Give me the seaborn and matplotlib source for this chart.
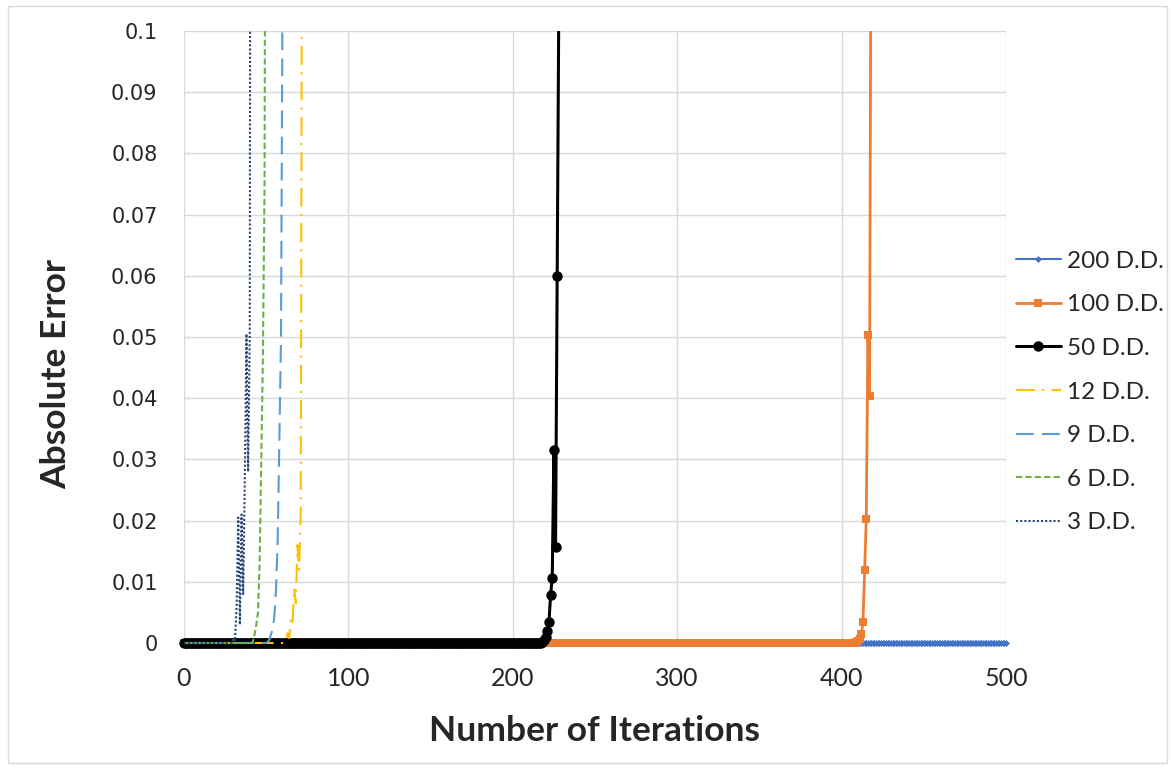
import numpy as np
import matplotlib
matplotlib.use("Agg")
import matplotlib.pyplot as plt
from matplotlib.patches import Rectangle
from matplotlib.transforms import Bbox, TransformedBbox
import seaborn as sns

# absolute error per iteration (zero until each run blows up)
it200 = list(range(0, 501))
err200 = [0.0] * 501

it100 = list(range(0, 419))
err100 = [0.0] * 409 + [0.0002, 0.0004, 0.0007, 0.0014, 0.0034, 0.012, 0.0202, 0.0503, 0.0404, 0.13]

it50 = list(range(0, 229))
err50 = [0.0] * 218 + [0.0002, 0.0005, 0.001, 0.0019, 0.0034, 0.0079, 0.0107, 0.0315, 0.0157, 0.06, 0.105]

it12 = list(range(0, 73))
err12 = [0.0] * 62 + [0.0003, 0.0016, 0.0008, 0.0038, 0.003, 0.009, 0.0065, 0.016, 0.012, 0.0215, 0.15]

it9 = list(range(0, 61))
err9 = [0.0] * 51 + [0.0002, 0.0006, 0.0015, 0.0022, 0.0045, 0.0088, 0.017, 0.033, 0.05, 0.11]

it6 = list(range(0, 51))
err6 = [0.0] * 42 + [0.0003, 0.0015, 0.003, 0.005, 0.013, 0.03, 0.047, 0.075, 0.2]

it3 = list(range(0, 42))
err3 = [0.0] * 30 + [0.0008, 0.0003, 0.006, 0.0205, 0.003, 0.021, 0.008, 0.0272, 0.0505, 0.028, 0.0505, 0.3]

labels = ['200 D.D.', '100 D.D.', '50 D.D.', '12 D.D.', '9 D.D.', '6 D.D.', '3 D.D.']
xticks = [0, 100, 200, 300, 400, 500]
yticks = [0, 0.01, 0.02, 0.03, 0.04, 0.05, 0.06, 0.07, 0.08, 0.09, 0.1]
ytick_labels = ['0', '0.01', '0.02', '0.03', '0.04', '0.05', '0.06', '0.07', '0.08', '0.09', '0.1']

# 线型 / 颜色 (Excel 默认配色)
styles = [
    dict(color='#4472C4', linewidth=1.5, linestyle='-', marker='D', markersize=3.5),
    dict(color='#ED7D31', linewidth=2.0, linestyle='-', marker='s', markersize=6),
    dict(color='black', linewidth=2.2, linestyle='-', marker='o', markersize=7.5),
    dict(color='#FFC000', linewidth=1.5, linestyle=(0, (9, 3.5, 1, 3.5))),
    dict(color='#5B9BD5', linewidth=1.5, linestyle=(0, (8.5, 4))),
    dict(color='#70AD47', linewidth=1.5, linestyle=(0, (3, 1.5))),
    dict(color='#264478', linewidth=1.5, linestyle=(0, (1, 1))),
]
data = [(it200, err200), (it100, err100), (it50, err50), (it12, err12),
        (it9, err9), (it6, err6), (it3, err3)]

sns.set_theme(style="white")
plt.rcParams['font.family'] = ['Lato', 'DejaVu Sans']

W, H = 1175, 769
fig = plt.figure(figsize=(W / 100, H / 100), dpi=100)
ax = fig.add_axes([184 / W, 1 - 643 / H, (1006 - 184) / W, (643 - 31) / H])

# markers may spill a little below / beside the plot area, but not above
clip = TransformedBbox(Bbox([[-0.02, -0.03], [1.02, 1.0]]), ax.transAxes)

for label, (x, y), st in zip(labels, data, styles):
    sns.lineplot(x=x, y=y, ax=ax, label=label, estimator=None, sort=False,
                 markeredgewidth=0, markeredgecolor=st['color'], **st)
    ax.lines[-1].set_clip_box(clip)

ax.set_xlim(0, 500)
ax.set_ylim(0, 0.1)
ax.set_xticks(xticks)
ax.set_xticklabels([str(t) for t in xticks])
ax.set_yticks(yticks)
ax.set_yticklabels(ytick_labels, family='DejaVu Sans', fontsize=15)
ax.tick_params(axis='x', length=0, pad=17, labelsize=18)
ax.tick_params(axis='y', length=0, pad=19)

ax.grid(True, color='#d9d9d9', linewidth=1)
ax.set_axisbelow(True)
for s in ax.spines.values():
    s.set_visible(False)

ax.set_xlabel('Number of Iterations', fontsize=25.5, fontweight='bold')
ax.xaxis.label.set_va('center')
ax.xaxis.set_label_coords(0.5, -0.144)
ax.set_ylabel('Absolute Error', fontsize=25.5, fontweight='bold')
ax.yaxis.label.set_va('center')
ax.yaxis.set_label_coords(-0.155, 0.44)

ax.legend(loc='center left', bbox_to_anchor=(1016 / W, 1 - 392 / H),
          bbox_transform=fig.transFigure, frameon=False, fontsize=17.5,
          handlelength=1.85, handletextpad=0.25, labelspacing=0.93,
          borderaxespad=0, borderpad=0)

# chart area border
fig.patches.append(Rectangle((8 / W, 1 - 763 / H), (1167 - 8) / W, (763 - 6) / H,
                             transform=fig.transFigure, fill=False,
                             edgecolor='#d9d9d9', linewidth=1))

fig.savefig('out.png', dpi=100)
